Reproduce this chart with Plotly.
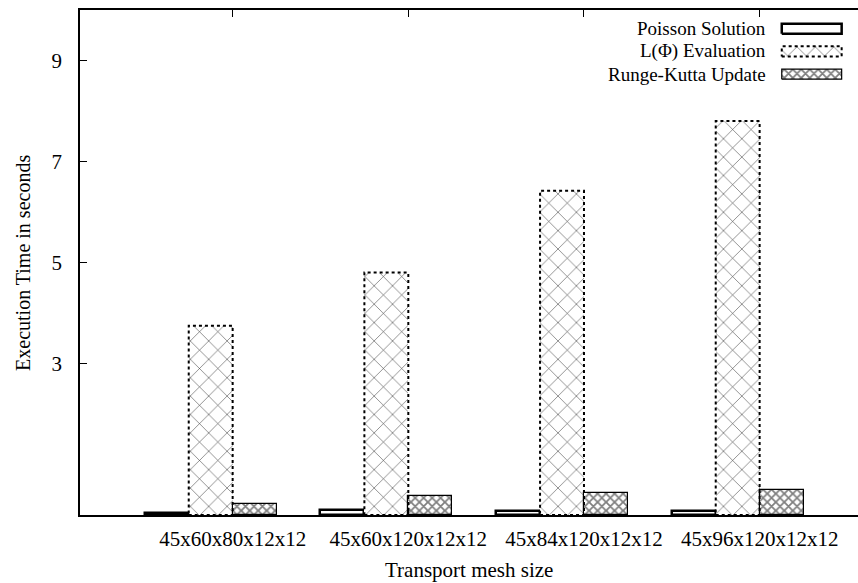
import plotly.graph_objects as go

# Execution time per transport mesh size, split by solver phase
categories = ["45x60x80x12x12", "45x60x120x12x12", "45x84x120x12x12", "45x96x120x12x12"]
poisson = [0.04, 0.09, 0.08, 0.08]
l_eval = [3.75, 4.80, 6.42, 7.80]
rk_update = [0.22, 0.37, 0.44, 0.50]
series_names = ["Poisson Solution", "L(\u03a6) Evaluation", "Runge-Kutta Update"]
y_ticks = [3, 5, 7, 9]

FONT = "Liberation Serif"
FS = 21
KEY_FS = 19
BAR_W = 0.25
offsets = [-0.375, -0.125, 0.125]
idx = list(range(len(categories)))

L_PATTERN = dict(shape="x", size=13, solidity=0.08, fgcolor="black",
                 fgopacity=0.8, bgcolor="white")
RK_PATTERN = dict(shape="x", size=6, solidity=0.5, fgcolor="black",
                  bgcolor="white")

fig = go.Figure()

# Poisson: white fill, heavy black outline
fig.add_trace(go.Bar(
    x=[i + offsets[0] for i in idx], y=poisson, width=BAR_W,
    marker=dict(color="white", line=dict(color="black", width=2.5)),
    showlegend=False))

# L(Phi): sparse cross pattern, outline drawn dotted below
fig.add_trace(go.Bar(
    x=[i + offsets[1] for i in idx], y=l_eval, width=BAR_W,
    marker=dict(color="white", line=dict(width=0), pattern=L_PATTERN),
    showlegend=False))

# Runge-Kutta: dense crosshatch, solid outline
fig.add_trace(go.Bar(
    x=[i + offsets[2] for i in idx], y=rk_update, width=BAR_W,
    marker=dict(color="white", line=dict(color="black", width=1.2),
                pattern=RK_PATTERN),
    showlegend=False))

shapes = []
for i, v in zip(idx, l_eval):
    x0 = i + offsets[1] - BAR_W / 2
    shapes.append(dict(type="rect", xref="x", yref="y", x0=x0, x1=x0 + BAR_W,
                       y0=0, y1=v, line=dict(color="black", width=2, dash="dot"),
                       fillcolor="rgba(0,0,0,0)", layer="above"))

# Key: label text on the left, sample box on the right (overlay axes in 0..1)
key_rows = [0.963, 0.918, 0.873]
key_x0, key_x1, key_h = 0.902, 0.979, 0.010
key_styles = [
    dict(line=dict(color="black", width=2.5), fillcolor="white"),
    dict(line=dict(color="black", width=2, dash="dot"), fillcolor="white",
         fillpattern=L_PATTERN),
    dict(line=dict(color="black", width=1.2), fillcolor="white",
         fillpattern=RK_PATTERN),
]
annotations = []
for name, yc, st in zip(series_names, key_rows, key_styles):
    fig.add_trace(go.Scatter(
        x=[key_x0, key_x1, key_x1, key_x0, key_x0],
        y=[yc - key_h, yc - key_h, yc + key_h, yc + key_h, yc - key_h],
        xaxis="x2", yaxis="y2", mode="lines", fill="toself",
        showlegend=False, hoverinfo="skip", **st))
    annotations.append(dict(xref="paper", yref="paper", x=0.884, y=yc,
                            xanchor="right", yanchor="middle", text=name,
                            showarrow=False,
                            font=dict(family=FONT, size=KEY_FS, color="black")))

annotations.append(dict(xref="paper", yref="paper", x=0.5, y=-0.108,
                        xanchor="center", yanchor="middle",
                        text="Transport mesh size", showarrow=False,
                        font=dict(family=FONT, size=FS, color="black")))
annotations.append(dict(xref="paper", yref="paper", x=-0.074, y=0.5,
                        xanchor="center", yanchor="middle", textangle=-90,
                        text="Execution Time in seconds", showarrow=False,
                        font=dict(family=FONT, size=FS - 1, color="black")))

fig.update_layout(
    width=858, height=583,
    margin=dict(l=80, r=0, t=10, b=68),
    paper_bgcolor="white", plot_bgcolor="white",
    barmode="overlay", bargap=0,
    font=dict(family=FONT, size=FS, color="black"),
    shapes=shapes, annotations=annotations,
    xaxis=dict(range=[-0.869, 3.56], tickvals=idx, ticktext=categories,
               showgrid=False, zeroline=False, showline=True, linecolor="black",
               linewidth=1.5, mirror="ticks", ticks="inside", ticklen=7,
               tickcolor="black", tickfont=dict(family=FONT, size=FS),
               ticklabelstandoff=4, automargin=False),
    yaxis=dict(range=[0, 10], tickvals=y_ticks, showgrid=False, zeroline=False,
               showline=True, linecolor="black", linewidth=1.5, ticks="inside",
               ticklen=7, tickcolor="black", tickfont=dict(family=FONT, size=FS),
               ticklabelstandoff=12, automargin=False),
    xaxis2=dict(overlaying="x", range=[0, 1], visible=False),
    yaxis2=dict(overlaying="y", range=[0, 1], visible=False),
)

fig.write_html("out.html")
